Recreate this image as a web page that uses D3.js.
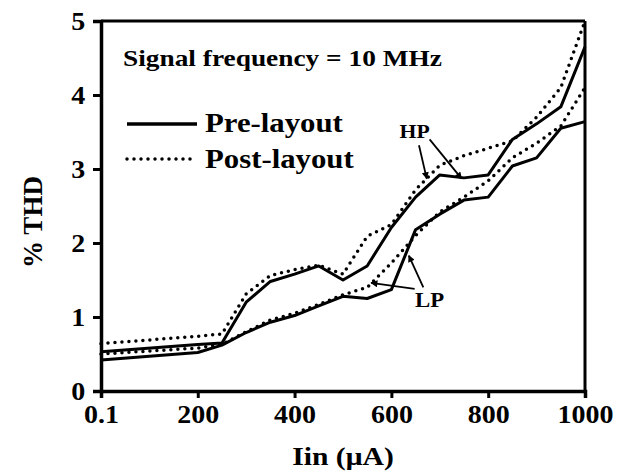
<!DOCTYPE html>
<html><head><meta charset="utf-8">
<script src="https://cdn.jsdelivr.net/npm/d3@7/dist/d3.min.js"></script>
<style>body{margin:0;background:#fff}svg{display:block}</style>
</head><body>
<svg id="c" width="633" height="473"></svg>
<script>
const xTicks = [0.1, 200, 400, 600, 800, 1000];
const xTickLabels = ["0.1", "200", "400", "600", "800", "1000"];
const yTicks = [0, 1, 2, 3, 4, 5];
const xVals = [0.1, 200, 250, 300, 350, 400, 450, 500, 550, 600, 650, 700, 750, 800, 850, 900, 950, 1000];
const preHP  = [0.53, 0.63, 0.65, 1.20, 1.48, 1.58, 1.69, 1.50, 1.69, 2.21, 2.62, 2.92, 2.88, 2.92, 3.40, 3.61, 3.84, 4.65];
const preLP  = [0.42, 0.52, 0.62, 0.79, 0.93, 1.02, 1.15, 1.28, 1.25, 1.37, 2.18, 2.39, 2.58, 2.62, 3.04, 3.15, 3.55, 3.64];
const postHP = [0.64, 0.74, 0.77, 1.31, 1.56, 1.64, 1.70, 1.58, 2.09, 2.25, 2.72, 3.05, 3.18, 3.28, 3.38, 3.70, 4.10, 5.00];
const postLP = [0.50, 0.58, 0.63, 0.80, 0.96, 1.05, 1.17, 1.30, 1.40, 1.73, 2.10, 2.42, 2.62, 2.84, 3.15, 3.35, 3.58, 4.10];
const titleText = "Signal frequency = 10 MHz";
const legendLabels = ["Pre-layout", "Post-layout"];
const hpLabel = {text: "HP", x: 648, y: 3.42};
const lpLabel = {text: "LP", x: 679, y: 1.13};
const hpArrows = [[[657, 3.32], [673, 2.87]], [[679, 3.40], [745, 2.87]]];
const lpArrows = [[[648, 1.38], [558, 1.46]], [[666, 1.40], [636, 1.83]]];

const svg = d3.select("#c");
const W = 633, H = 473;
const m = {l: 101, r: 48, t: 21, b: 82};
const x = d3.scaleLinear().domain([0.1, 1000]).range([m.l, W - m.r]);
const y = d3.scaleLinear().domain([0, 5]).range([H - m.b, m.t]);
const font = "'Liberation Serif', 'Times New Roman', serif";
const SX = 1.14;

function label(px, py, str, size, anchor) {
  return svg.append("text").attr("transform", `translate(${px},${py}) scale(${SX},1)`)
    .attr("text-anchor", anchor || "start").attr("font-family", font).attr("font-weight", "bold")
    .attr("font-size", size).attr("fill", "#000").text(str);
}

svg.append("defs").append("marker").attr("id", "ar")
  .attr("viewBox", "0 0 10 10").attr("refX", 9).attr("refY", 5)
  .attr("markerWidth", 11).attr("markerHeight", 7).attr("markerUnits", "userSpaceOnUse")
  .attr("orient", "auto")
  .append("path").attr("d", "M0,0L10,5L0,10z").attr("fill", "#000");

// frame
svg.append("line").attr("x1", x(0.1)).attr("x2", x(1000)).attr("y1", y(5)).attr("y2", y(5)).attr("stroke", "#000").attr("stroke-width", 3);
svg.append("line").attr("x1", x(1000)).attr("x2", x(1000)).attr("y1", y(5)).attr("y2", y(0)).attr("stroke", "#000").attr("stroke-width", 3);

const xa = svg.append("g").attr("transform", `translate(0,${y(0)})`)
  .call(d3.axisBottom(x).tickValues(xTicks).tickFormat((d, i) => xTickLabels[i]).tickSize(7).tickPadding(7));
const ya = svg.append("g").attr("transform", `translate(${x(0.1)},0)`)
  .call(d3.axisLeft(y).tickValues(yTicks).tickFormat(d3.format("d")).tickSize(8).tickPadding(6));
[xa, ya].forEach(g => {
  g.select(".domain").attr("stroke-width", 3.5);
  g.selectAll(".tick line").attr("stroke-width", 3);
  g.selectAll("text").attr("font-family", font).attr("font-weight", "bold").attr("font-size", 25)
    .attr("fill", "#000").attr("transform", "scale(1.12,1)");
});
ya.selectAll("text").attr("dy", "0.32em");

const line = d3.line().x((d, i) => x(xVals[i])).y(d => y(d));
const series = [
  {v: preHP, dash: null}, {v: preLP, dash: null},
  {v: postHP, dash: "0 7"}, {v: postLP, dash: "0 7"}
];
series.forEach(s => {
  svg.append("path").datum(s.v).attr("d", line).attr("fill", "none").attr("stroke", "#000")
    .attr("stroke-width", s.dash ? 3.5 : 3).attr("stroke-linecap", s.dash ? "round" : "butt")
    .attr("stroke-linejoin", "round").attr("stroke-dasharray", s.dash);
});

label(123, 66, titleText, 24);

// legend
[0, 1].forEach(i => {
  const ly = 124 + i * 35;
  svg.append("line").attr("x1", 127).attr("x2", 197).attr("y1", ly).attr("y2", ly)
    .attr("stroke", "#000").attr("stroke-width", 3.5)
    .attr("stroke-linecap", i ? "round" : "butt").attr("stroke-dasharray", i ? "0 7" : null);
  label(205, ly + 8 + i, legendLabels[i], 27);
});

// annotations
label(x(hpLabel.x), y(hpLabel.y), hpLabel.text, 19, "middle");
label(x(lpLabel.x), y(lpLabel.y), lpLabel.text, 20, "middle");
hpArrows.concat(lpArrows).forEach(a => {
  svg.append("line").attr("x1", x(a[0][0])).attr("y1", y(a[0][1])).attr("x2", x(a[1][0])).attr("y2", y(a[1][1]))
    .attr("stroke", "#000").attr("stroke-width", 1.8).attr("marker-end", "url(#ar)");
});

label((x(0.1) + x(1000)) / 2, 465, "Iin (μA)", 26, "middle");
svg.append("text").attr("transform", `translate(42,222) rotate(-90)`).attr("text-anchor", "middle")
  .attr("font-family", font).attr("font-weight", "bold").attr("font-size", 27).text("% THD");
</script>
</body></html>
